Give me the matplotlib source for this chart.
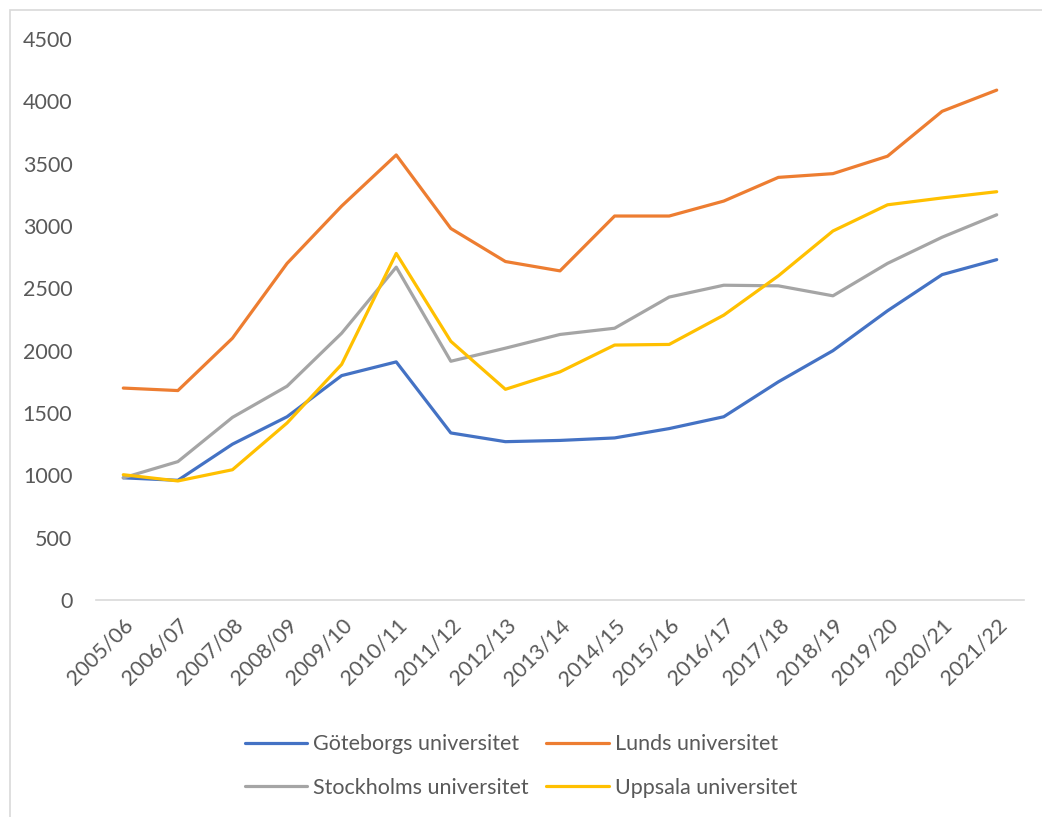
import matplotlib.pyplot as plt
from matplotlib.patches import Rectangle

years = ['2005/06', '2006/07', '2007/08', '2008/09', '2009/10', '2010/11', '2011/12',
         '2012/13', '2013/14', '2014/15', '2015/16', '2016/17', '2017/18', '2018/19',
         '2019/20', '2020/21', '2021/22']

goteborg = [980, 960, 1250, 1470, 1800, 1910, 1340, 1270, 1280, 1300, 1375, 1470,
            1750, 2000, 2320, 2610, 2730]
lund = [1700, 1680, 2100, 2700, 3160, 3570, 2980, 2715, 2640, 3080, 3080, 3200,
        3390, 3420, 3560, 3920, 4090]
stockholm = [980, 1110, 1465, 1715, 2140, 2670, 1915, 2020, 2130, 2180, 2430, 2525,
             2520, 2440, 2700, 2910, 3090]
uppsala = [1005, 955, 1045, 1420, 1890, 2780, 2075, 1690, 1830, 2045, 2050, 2285,
           2600, 2960, 3170, 3225, 3275]

series = [
    ('Göteborgs universitet', goteborg, '#4472C4'),
    ('Lunds universitet', lund, '#ED7D31'),
    ('Stockholms universitet', stockholm, '#A5A5A5'),
    ('Uppsala universitet', uppsala, '#FFC000'),
]

plt.rcParams['font.family'] = ['Lato', 'DejaVu Sans']
text_col = '#595959'

fig = plt.figure(figsize=(10.42, 8.17), dpi=100)
ax = fig.add_axes([96 / 1042, 1 - 600 / 817, (1024 - 96) / 1042, (600 - 39) / 817])

x = range(len(years))
lines = {}
for name, vals, col in series:
    lines[name], = ax.plot(x, vals, color=col, lw=2.3, label=name, solid_capstyle='round')

ax.set_xlim(-0.5, len(years) - 0.5)
ax.set_ylim(0, 4500)
ax.set_yticks(range(0, 4501, 500))
ax.set_xticks(list(x))
ax.set_xticklabels(years, rotation=45, ha='right', rotation_mode='anchor')
ax.tick_params(axis='both', length=0, labelsize=15.5, labelcolor=text_col)
ax.tick_params(axis='y', pad=17)
ax.tick_params(axis='x', pad=11)

for s in ['top', 'right', 'left']:
    ax.spines[s].set_visible(False)
ax.spines['bottom'].set_color('#D9D9D9')
ax.spines['bottom'].set_linewidth(1.2)

# row-major legend order: matplotlib fills columns first
order = ['Göteborgs universitet', 'Stockholms universitet',
         'Lunds universitet', 'Uppsala universitet']
fig.legend([lines[n] for n in order], order, loc='center',
           bbox_to_anchor=(0.5, 1 - 766 / 817), ncol=2, frameon=False,
           fontsize=15.5, handlelength=2.9, handletextpad=0.3, columnspacing=0.8,
           labelspacing=1.1, labelcolor=text_col)

fig.patches.append(Rectangle((10 / 1042, -0.1), 1.2, 1 - 10 / 817 + 0.1,
                             transform=fig.transFigure, fill=False,
                             edgecolor='#D9D9D9', lw=1.2))

fig.savefig('out.png', dpi=100)
